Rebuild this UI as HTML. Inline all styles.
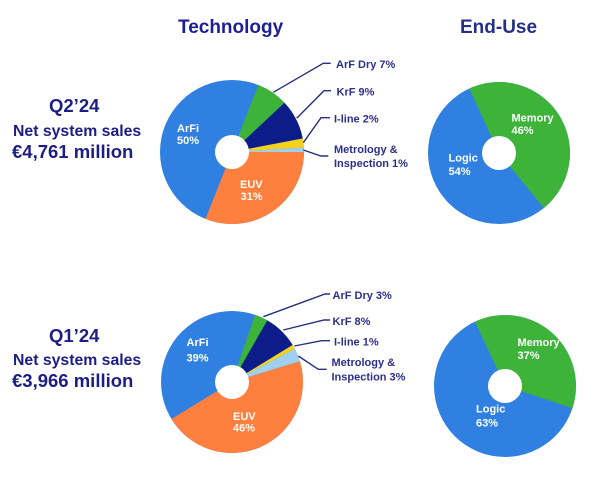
<!DOCTYPE html>
<html><head><meta charset="utf-8"><style>
html,body{margin:0;padding:0;background:#fff;}
svg{display:block;}
text{font-family:"Liberation Sans",Arial,sans-serif;font-weight:bold;}
.lb{fill:#2b2f8c;font-size:11px;}
.w{fill:#fff;font-size:11px;}
.ln{stroke:#25307e;stroke-width:1.4;fill:none;}
.lt{fill:#1d1d86;}
</style></head><body>
<svg width="600" height="484" viewBox="0 0 600 484" xmlns="http://www.w3.org/2000/svg">
<rect width="600" height="484" fill="#fff"/>
<!-- titles -->
<text x="178" y="33" font-size="19" fill="#1f1f95">Technology</text>
<text x="460" y="33" font-size="19" fill="#243088">End-Use</text>

<!-- left text -->
<text class="lt" x="49" y="112" font-size="18.5">Q2’24</text>
<text class="lt" x="13" y="136" font-size="15.8">Net system sales</text>
<text class="lt" x="12" y="158" font-size="18.5">€4,761 million</text>

<text class="lt" x="49" y="342" font-size="18.5">Q1’24</text>
<text class="lt" x="13" y="365" font-size="15.8">Net system sales</text>
<text class="lt" x="12" y="387" font-size="18.5">€3,966 million</text>

<!-- top tech pie -->
<circle cx="232" cy="152" r="72" fill="#2f80e0"/>
<path d="M232 152 L258.50 85.05 A72 72 0 0 1 284.49 102.72 Z" fill="#3db33a"/>
<path d="M232 152 L284.49 102.72 A72 72 0 0 1 302.72 138.51 Z" fill="#0c1d8a"/>
<path d="M232 152 L302.72 138.51 A72 72 0 0 1 303.86 147.48 Z" fill="#f7d21d"/>
<path d="M232 152 L303.86 147.48 A72 72 0 0 1 304 152 Z" fill="#9fd0ef"/>
<path d="M232 152 L304 152 A72 72 0 0 1 205.50 218.95 Z" fill="#ff7f3f"/>
<circle cx="232" cy="152" r="17" fill="#fff"/>
<text class="w" x="177" y="132">ArFi</text>
<text class="w" x="177" y="144">50%</text>
<text class="w" x="240" y="188">EUV</text>
<text class="w" x="240.5" y="200">31%</text>

<!-- top tech leaders -->
<polyline class="ln" points="273.3,92.3 323.3,63.3 330.7,63.3"/>
<polyline class="ln" points="296.7,118.3 324,90.7 331,90.7"/>
<polyline class="ln" points="303.3,142.7 321,117.7 330,117.7"/>
<polyline class="ln" points="303.3,150 321,156 328.3,156"/>
<text class="lb" x="336" y="68">ArF Dry 7%</text>
<text class="lb" x="336.5" y="95.5">KrF 9%</text>
<text class="lb" x="334" y="122.5">I-line 2%</text>
<text class="lb" x="334" y="153">Metrology &amp;</text>
<text class="lb" x="334" y="167">Inspection 1%</text>

<!-- bottom tech pie -->
<circle cx="232" cy="382" r="71" fill="#2f80e0"/>
<path d="M232 382 L255.12 314.87 A71 71 0 0 1 267.29 320.39 Z" fill="#3db33a"/>
<path d="M232 382 L267.29 320.39 A71 71 0 0 1 292.60 345.01 Z" fill="#0c1d8a"/>
<path d="M232 382 L292.60 345.01 A71 71 0 0 1 294.81 348.89 Z" fill="#f7d21d"/>
<path d="M232 382 L294.81 348.89 A71 71 0 0 1 299.90 361.24 Z" fill="#9fd0ef"/>
<path d="M232 382 L299.90 361.24 A71 71 0 0 1 171.40 418.99 Z" fill="#ff7f3f"/>
<circle cx="232" cy="382" r="17" fill="#fff"/>
<text class="w" x="186.5" y="346">ArFi</text>
<text class="w" x="186.5" y="361.5">39%</text>
<text class="w" x="233" y="420">EUV</text>
<text class="w" x="233" y="431.5">46%</text>

<!-- bottom tech leaders -->
<polyline class="ln" points="263.3,316.7 325,294 330,294"/>
<polyline class="ln" points="283.3,330 324,320 330,320"/>
<polyline class="ln" points="294.3,346 321.7,340.7 330,340.7"/>
<polyline class="ln" points="298.3,356 318.3,369.3 326.7,369.3"/>
<text class="lb" x="332.5" y="299">ArF Dry 3%</text>
<text class="lb" x="332.5" y="325">KrF 8%</text>
<text class="lb" x="334" y="345.5">I-line 1%</text>
<text class="lb" x="331.5" y="366">Metrology &amp;</text>
<text class="lb" x="331.5" y="380.5">Inspection 3%</text>

<!-- top end-use -->
<circle cx="499" cy="153" r="71" fill="#2f80e0"/>
<path d="M499 153 L469.22 88.55 A71 71 0 0 1 543.87 208.02 Z" fill="#3db33a"/>
<circle cx="499" cy="153" r="17" fill="#fff"/>
<text class="w" x="511.5" y="121.5">Memory</text>
<text class="w" x="511.5" y="134">46%</text>
<text class="w" x="448.5" y="161.5">Logic</text>
<text class="w" x="448.5" y="175">54%</text>

<!-- bottom end-use -->
<circle cx="505" cy="386" r="71" fill="#2f80e0"/>
<path d="M505 386 L475.00 321.65 A71 71 0 0 1 572.45 408.17 Z" fill="#3db33a"/>
<circle cx="505" cy="386" r="17" fill="#fff"/>
<text class="w" x="517.5" y="346">Memory</text>
<text class="w" x="517.5" y="359">37%</text>
<text class="w" x="476" y="412.5">Logic</text>
<text class="w" x="476" y="426.5">63%</text>
</svg>
</body></html>
